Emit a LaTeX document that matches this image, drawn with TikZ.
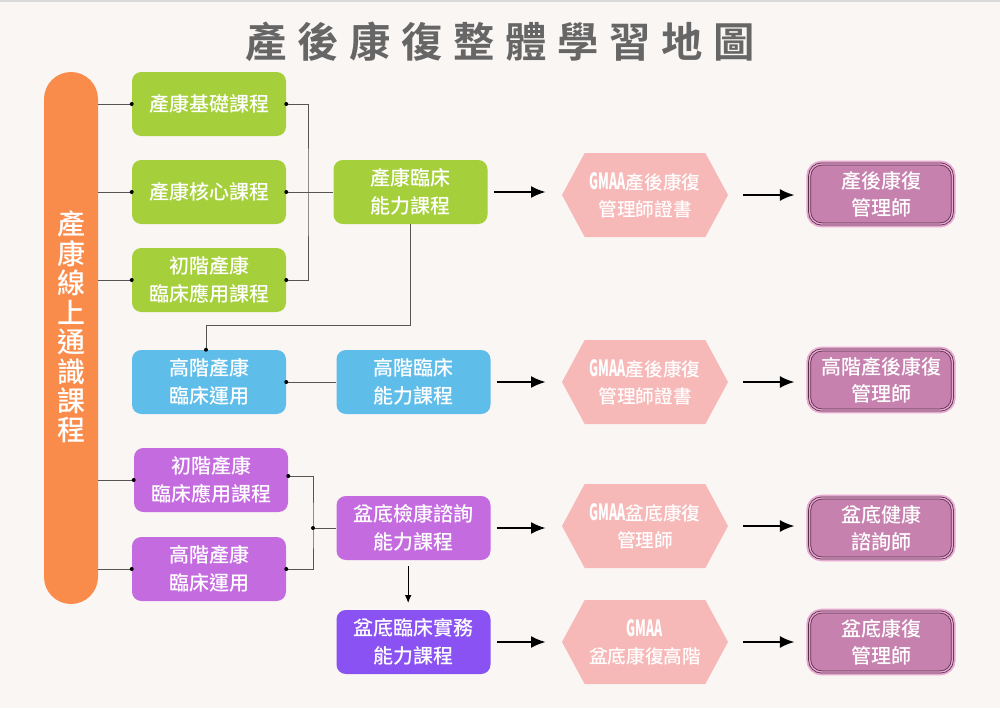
\documentclass[tikz,border=0pt]{standalone}
\usepackage{fontspec}
\setmainfont{Noto Sans CJK TC}[UprightFont=* Medium, BoldFont=* Bold]
\newfontfamily\gmfont{Noto Sans CJK TC}[UprightFont=* Black]
\usepackage{graphicx}
\usetikzlibrary{arrows.meta,calc}
\definecolor{bgc}{HTML}{FAF6F4}
\definecolor{orangec}{HTML}{FA8C4B}
\definecolor{greenc}{HTML}{A5CF3B}
\definecolor{bluec}{HTML}{5FBDEA}
\definecolor{purplec}{HTML}{C56BE0}
\definecolor{dpurplec}{HTML}{8A52F2}
\definecolor{hexc}{HTML}{F7B8B8}
\definecolor{mauvec}{HTML}{C681AE}
\definecolor{mauveline}{HTML}{5B2C4C}
\definecolor{glowc}{HTML}{E6A9CF}
\definecolor{titlec}{HTML}{666666}
\definecolor{connc}{HTML}{555555}
\tikzset{
  box/.style={rectangle, rounded corners=7pt, minimum width=115.5pt, minimum height=48pt,
    text=white, align=center, font=\fontsize{15pt}{20.5pt}\selectfont, inner sep=0pt},
  gbox/.style={box, fill=greenc},
  bbox/.style={box, fill=bluec},
  pbox/.style={box, fill=purplec},
  dpbox/.style={box, fill=dpurplec},
  hexbox/.style={rectangle, minimum width=124.5pt, minimum height=63pt, inner sep=0pt,
    text=white, align=center, font=\fontsize{14pt}{20pt}\selectfont, fill=bgc,
    path picture={\fill[hexc] (path picture bounding box.west)
      -- ([xshift=17pt]path picture bounding box.north west)
      -- ([xshift=-17pt]path picture bounding box.north east)
      -- (path picture bounding box.east)
      -- ([xshift=-17pt]path picture bounding box.south east)
      -- ([xshift=17pt]path picture bounding box.south west) -- cycle;}},
  rbox/.style={rectangle, rounded corners=9pt, minimum width=107pt, minimum height=45pt,
    text=white, align=center, font=\fontsize{15pt}{20.5pt}\selectfont, inner sep=0pt,
    fill=mauvec, draw=mauveline, line width=0.6pt, double=glowc, double distance=1pt,
    preaction={draw=glowc, line width=5pt}},
  conn/.style={draw=connc, line width=0.7pt},
  dot/.style={circle, fill=black, inner sep=0pt, minimum size=3pt},
  bigarrow/.style={line width=1.6pt, -{Latex[length=11pt,width=9pt]}},
  thinarrow/.style={line width=0.8pt, -{Latex[length=6pt,width=5pt]}},
}
\newcommand\gm{\scalebox{0.66}[1.2]{\gmfont GMAA}}
\begin{document}
\begin{tikzpicture}[x=0.75pt,y=-0.75pt]
\fill[bgc] (0,0) rectangle (1000,708);
\useasboundingbox (0,0) rectangle (1000,708);
\draw[black!15, line width=0.8pt] (0,1) -- (1000,1);

% title
\node[text=titlec, font=\fontsize{31pt}{34pt}\selectfont\bfseries] (title) at (500,42)
  {產\hspace{8pt}後\hspace{8pt}康\hspace{8pt}復\hspace{8pt}整\hspace{8pt}體\hspace{8pt}學\hspace{8pt}習\hspace{8pt}地\hspace{8pt}圖};

% pill
\node[rectangle, rounded corners=20.25pt, fill=orangec, minimum width=40.5pt, minimum height=399pt, inner sep=0pt] (pill) at (71,338) {};
\node[text=white, align=center, font=\fontsize{21pt}{22.1pt}\selectfont, inner sep=0pt] (pilltext) at (71,327)
  {產\\康\\線\\上\\通\\識\\課\\程};

% green
\node[gbox] (g1) at (209,104) {產康基礎課程};
\node[gbox] (g2) at (209,192) {產康核心課程};
\node[gbox] (g3) at (209,280) {初階產康\\臨床應用課程};
\node[gbox] (g4) at (410.5,192) {產康臨床\\能力課程};
% blue
\node[bbox] (b1) at (209,382) {高階產康\\臨床運用};
\node[bbox] (b2) at (413.5,382) {高階臨床\\能力課程};
% purple
\node[pbox] (p1) at (211,480) {初階產康\\臨床應用課程};
\node[pbox] (p2) at (209,569) {高階產康\\臨床運用};
\node[pbox] (p3) at (413.5,528) {盆底檢康諮詢\\能力課程};
\node[dpbox] (p4) at (413.5,642) {盆底臨床實務\\能力課程};

% hexagons
\node[hexbox] (h1) at (645,195) {\gm 產後康復\\管理師證書};
\node[hexbox] (h2) at (645,382) {\gm 產後康復\\管理師證書};
\node[hexbox] (h3) at (645,526) {\gm 盆底康復\\管理師};
\node[hexbox] (h4) at (645,642) {\gm\\盆底康復高階};

% result boxes
\node[rbox] (r1) at (881,194) {產後康復\\管理師};
\node[rbox] (r2) at (881,380) {高階產後康復\\管理師};
\node[rbox] (r3) at (881,528) {盆底健康\\諮詢師};
\node[rbox] (r4) at (881,642) {盆底康復\\管理師};

% coordinates
\coordinate (busg) at (308,192);
\coordinate (turn) at (206,325);
\coordinate (busp) at (313,528);

% left connectors
\foreach \n in {g1,g2,g3,p1,p2}{
  \draw[conn] (pill.east |- \n.west) -- (\n.west);
  \node[dot] at (\n.west) {};
}
\draw[conn] (g1.east) -| (busg) |- (g3.east);
\draw[conn] (g2.east) -- (g4.west);
\node[dot] at (g1.east) {};
\node[dot] at (g2.east) {};
\node[dot] at (g3.east) {};
\draw[conn] (g4.south) |- (turn) -- (turn |- b1.north);
\node[dot] at (turn |- b1.north) {};
\draw[conn] (b2.west) -- (b1.east);
\node[dot] at (b1.east) {};
\draw[conn] (p1.east |- 0,476) -| (busp) |- (p2.east);
\node[dot] at (p1.east |- 0,476) {};
\node[dot] at (p2.east) {};
\draw[conn] (p3.west) -- (busp);
\node[dot] at (busp) {};
\draw[thinarrow] ([xshift=-4pt,yshift=-4.5pt]p3.south) -- ([xshift=-4pt,yshift=5pt]p4.north);

% big arrows
\draw[bigarrow] ([xshift=4.5pt]g4.east) -- ([xshift=-12pt]g4.east -| h1.west);
\draw[bigarrow] ([xshift=4.5pt]b2.east) -- ([xshift=-12pt]b2.east -| h2.west);
\draw[bigarrow] ([xshift=4.5pt]p3.east) -- ([xshift=-12pt]p3.east -| h3.west);
\draw[bigarrow] ([xshift=4.5pt]p4.east) -- ([xshift=-12pt]p4.east -| h4.west);
\draw[bigarrow] ([xshift=11pt]h1.east) -- ([xshift=-11pt]h1.east -| r1.west);
\draw[bigarrow] ([xshift=11pt]h2.east) -- ([xshift=-11pt]h2.east -| r2.west);
\draw[bigarrow] ([xshift=11pt]h3.east) -- ([xshift=-11pt]h3.east -| r3.west);
\draw[bigarrow] ([xshift=11pt]h4.east) -- ([xshift=-11pt]h4.east -| r4.west);
\end{tikzpicture}
\end{document}
